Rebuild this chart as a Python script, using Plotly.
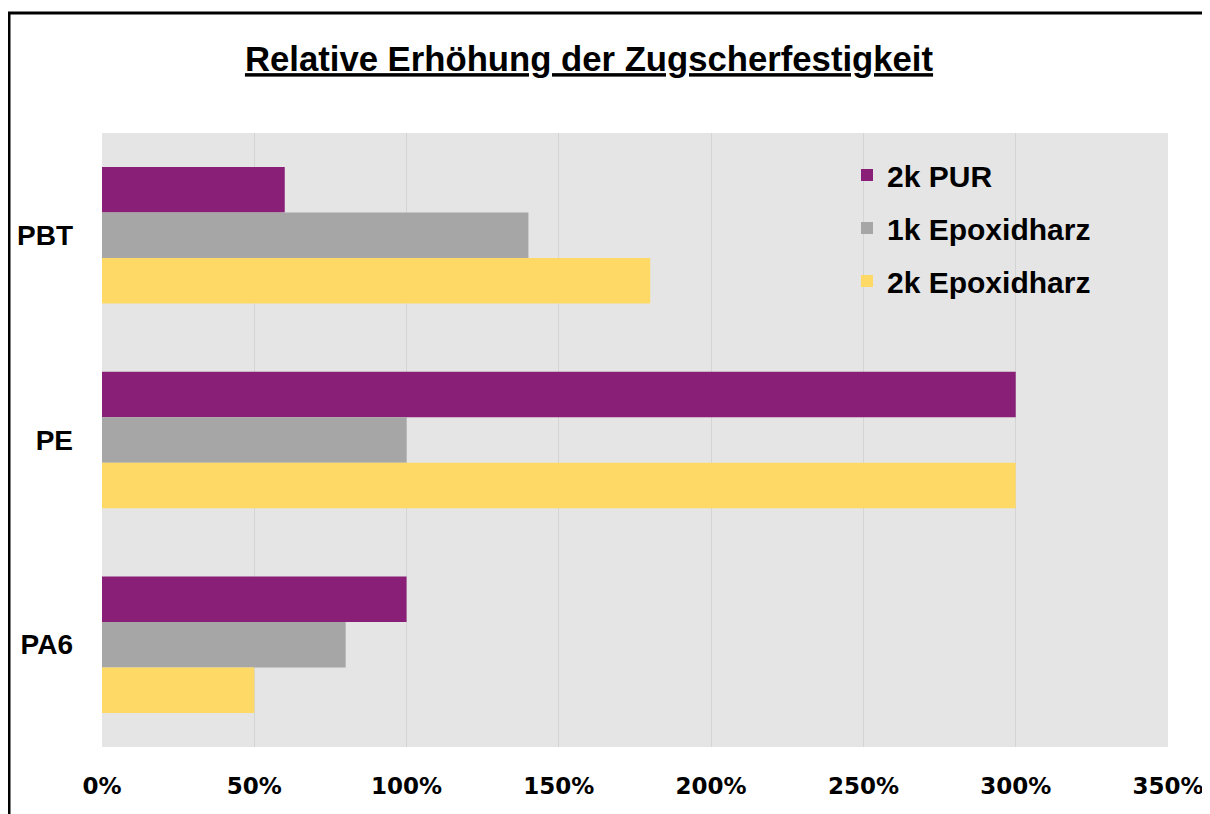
import plotly.graph_objects as go

categories = ["PBT", "PE", "PA6"]
series_names = ["2k PUR", "1k Epoxidharz", "2k Epoxidharz"]
pur_2k = [60, 300, 100]
epoxy_1k = [140, 100, 80]
epoxy_2k = [180, 300, 50]
colors = ["#891F76", "#A6A6A6", "#FFD966"]
tick_vals = [0, 50, 100, 150, 200, 250, 300, 350]
tick_text = ["0%", "50%", "100%", "150%", "200%", "250%", "300%", "350%"]
title_text = "Relative Erhöhung der Zugscherfestigkeit"

fig = go.Figure()
for name, vals, col in zip(series_names, [pur_2k, epoxy_1k, epoxy_2k], colors):
    fig.add_trace(go.Bar(
        y=categories, x=vals, name=name, orientation="h",
        marker=dict(color=col, line=dict(width=0)),
        legendgroup=name,
    ))

OFF = 8  # page body margin
W, H = 1210, 814
L, R, T, B = 102, 1168, 133, 747  # plot area in screen pixels

fig.update_layout(
    width=W, height=H,
    margin=dict(l=L - OFF, r=W - (R - OFF), t=T - OFF, b=H - (B - OFF)),
    paper_bgcolor="white",
    plot_bgcolor="#E5E5E5",
    barmode="group",
    bargap=0.333,
    bargroupgap=0,
    title=dict(
        text=title_text,
        x=(589 - OFF) / W, xref="container", xanchor="center",
        y=1 - (59 - OFF) / H, yref="container", yanchor="middle",
        font=dict(family="Liberation Sans", size=34.7, color="black",
                  weight="bold", lineposition="under"),
    ),
    xaxis=dict(
        range=[0, 350], tickvals=tick_vals, ticktext=tick_text,
        showgrid=True, gridcolor="#D4D4D4", gridwidth=1,
        zeroline=False, showline=False, automargin=False,
        ticks="", ticklabelstandoff=23,
        tickfont=dict(family="DejaVu Sans", size=23, color="black", weight="bold"),
        fixedrange=True,
    ),
    yaxis=dict(
        categoryorder="array", categoryarray=categories,
        autorange="reversed", automargin=False,
        showgrid=False, zeroline=False, showline=False,
        ticks="", ticklabelstandoff=28,
        tickfont=dict(family="Liberation Sans", size=28, color="black", weight="bold"),
        fixedrange=True,
    ),
    legend=dict(
        x=(847 - L) / (R - L), xanchor="left",
        y=(B - 149) / (B - T), yanchor="top",
        bgcolor="rgba(0,0,0,0)",
        font=dict(family="Liberation Sans", size=30, color="black", weight="bold"),
        traceorder="grouped", tracegroupgap=11,
        itemwidth=30,
    ),
    showlegend=True,
)

# outer border of the chart frame
fig.add_shape(
    type="rect", xref="paper", yref="paper",
    x0=(9 - L) / (R - L), x1=(1216 - L) / (R - L),
    y0=(B - 830) / (B - T), y1=(B - 13) / (B - T),
    line=dict(color="black", width=3), fillcolor="rgba(0,0,0,0)", layer="above",
)

fig.write_html("out.html")
